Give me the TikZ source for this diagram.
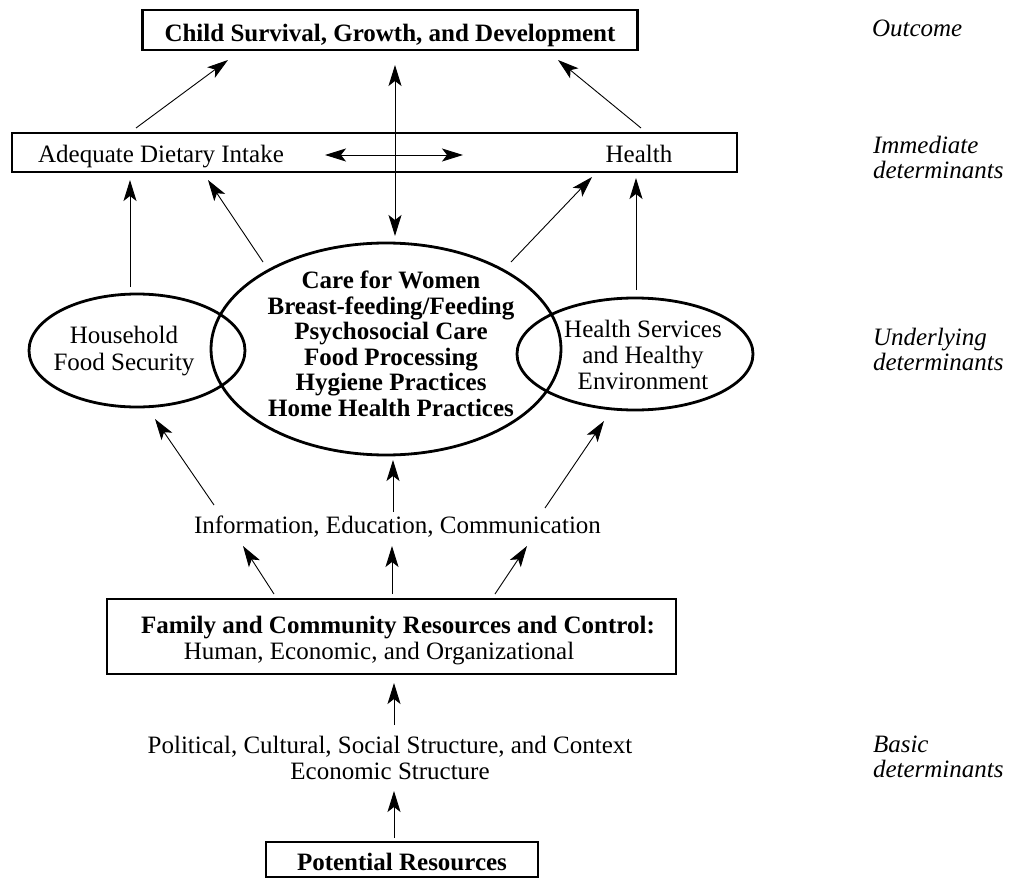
\documentclass[tikz,border=0pt]{standalone}
\usepackage{fontspec}
\setmainfont{Liberation Serif}
\usetikzlibrary{arrows.meta,shapes.geometric}
\begin{document}
\begin{tikzpicture}[x=1pt,y=-1pt,
  every node/.style={inner sep=0pt, outer sep=0pt, font=\fontsize{25}{26}\selectfont},
  boxed/.style={draw, line width=2.6pt, rectangle},
  oval/.style={draw, ellipse, line width=2.8pt},
  bold/.style={font=\fontsize{25}{25.5}\selectfont\bfseries},
  lvl/.style={font=\fontsize{25}{25}\selectfont\itshape, align=left, anchor=west},
  tipstyle/.style={},
  arr/.style={line width=0.9pt, -{Stealth[length=21pt,width=13pt,inset=5pt]}},
  dbl/.style={line width=0.9pt, {Stealth[length=21pt,width=13pt,inset=5pt]}-{Stealth[length=21pt,width=13pt,inset=5pt]}}
]
\useasboundingbox (0,0) rectangle (1012,880);

% boxes
\node[boxed, bold, minimum width=495pt, text height=32pt, text depth=8pt, anchor=base] (outc) at (390,42) {Child Survival, Growth, and Development};
\node[boxed, minimum width=725pt, minimum height=39pt] (imm) at (374.5,152.5) {};
\node[anchor=base] (adi) at (161,163) {Adequate Dietary Intake};
\node[anchor=base] (hlth) at (639,163) {Health};

% ellipses
\node[oval, minimum width=216pt, minimum height=113pt] (hfs) at (137,350.5) {};
\node[oval, minimum width=236pt, minimum height=112pt] (hse) at (635,354) {};
\node[oval, minimum width=350pt, minimum height=212pt] (care) at (386,349) {};
\node[align=center] (hfstxt) at (124,350.6) {Household\\[1pt]Food Security};
\node[align=center] (hsetxt) at (643,354.5) {Health Services\\and Healthy\\Environment};
\node[bold, align=center] (caretxt) at (391,343.6) {Care for Women\\Breast-feeding/Feeding\\Psychosocial Care\\Food Processing\\Hygiene Practices\\Home Health Practices};

% lower part
\node[anchor=base] (iec) at (397.5,533) {Information, Education, Communication};
\node[boxed, minimum width=569pt, minimum height=75pt] (fam) at (391.5,636.5) {};
\node[bold, anchor=base] (famA) at (398,633) {Family and Community Resources and Control:};
\node[anchor=base] (famB) at (379,659) {Human, Economic, and Organizational};
\node[align=center] (pol) at (390,757.7) {Political, Cultural, Social Structure, and Context\\Economic Structure};
\node[boxed, bold, minimum width=272pt, text height=28pt, text depth=7pt, anchor=base] (pot) at (402,870) {Potential Resources};

% level labels
\node[lvl, anchor=base west] (l1) at (872,37) {Outcome};
\node[lvl] (l2) at (873,157.2) {Immediate\\determinants};
\node[lvl] (l3) at (873,349.2) {Underlying\\determinants};
\node[lvl] (l4) at (873,757.2) {Basic\\determinants};

% connector end points
\coordinate (imm-l) at (136,128);   \coordinate (outc-l) at (228,60);
\coordinate (imm-r) at (641,128);   \coordinate (outc-r) at (558,60);
\coordinate (outc-m) at (395,65);   \coordinate (care-t) at (395,236);
\coordinate (adi-e) at (325,155);   \coordinate (hlth-w) at (463,155);
\coordinate (hfs-t) at (130,287);   \coordinate (imm-a) at (130,180);
\coordinate (care-tl) at (263,262); \coordinate (imm-b) at (208,180);
\coordinate (care-tr) at (511,262); \coordinate (imm-c) at (592,177);
\coordinate (hse-t) at (636,290);   \coordinate (imm-d) at (636,178);
\coordinate (iec-l) at (214,505);   \coordinate (hfs-b) at (155,419);
\coordinate (iec-m) at (393,512);   \coordinate (care-b) at (393,460);
\coordinate (iec-r) at (545,508);   \coordinate (hse-b) at (604,421);
\coordinate (fam-l) at (274,594);   \coordinate (iec-bl) at (243,546);
\coordinate (fam-m) at (392,594);   \coordinate (iec-bm) at (392,546);
\coordinate (fam-r) at (495,594);   \coordinate (iec-br) at (527,546);
\coordinate (pol-t) at (394,725);   \coordinate (fam-b) at (394,683);
\coordinate (pot-t) at (394,838);   \coordinate (pol-b) at (394,791);

\draw[arr] (imm-l) -- (outc-l);
\draw[arr] (imm-r) -- (outc-r);
\draw[dbl] (outc-m) -- (care-t);
\draw[dbl] (adi-e) -- (hlth-w);
\draw[arr] (hfs-t) -- (imm-a);
\draw[arr] (care-tl) -- (imm-b);
\draw[arr] (care-tr) -- (imm-c);
\draw[arr] (hse-t) -- (imm-d);
\draw[arr] (iec-l) -- (hfs-b);
\draw[arr] (iec-m) -- (care-b);
\draw[arr] (iec-r) -- (hse-b);
\draw[arr] (fam-l) -- (iec-bl);
\draw[arr] (fam-m) -- (iec-bm);
\draw[arr] (fam-r) -- (iec-br);
\draw[arr] (pol-t) -- (fam-b);
\draw[arr] (pot-t) -- (pol-b);
\end{tikzpicture}
\end{document}
